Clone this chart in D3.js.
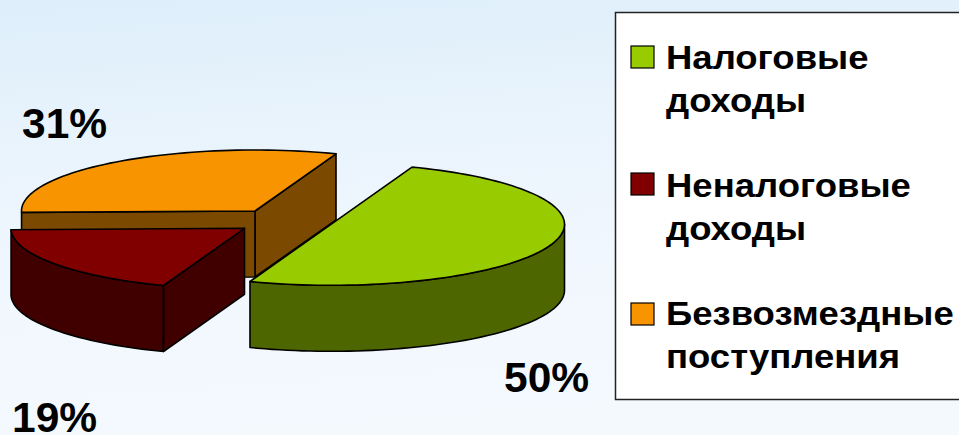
<!DOCTYPE html>
<html>
<head>
<meta charset="utf-8">
<script src="https://cdn.jsdelivr.net/npm/d3@7"></script>
<style>
  html, body { margin: 0; padding: 0; background: #f2f8fd; }
  svg { display: block; }
  text { font-family: "Liberation Sans", Arial, sans-serif; font-weight: bold; fill: #000; }
</style>
</head>
<body>
<div id="chart"></div>
<script>
'use strict';

const categories = [['Налоговые', 'доходы'], ['Неналоговые', 'доходы'], ['Безвозмездные', 'поступления']];
const shares = [50, 19, 31];
const shareLabels = ['50%', '19%', '31%'];
const topColors = ['#99cc00', '#800000', '#f79400'];
const sideColors = ['#4d6600', '#400000', '#7b4a00'];

const width = 959;
const height = 435;
const rx = 233.5;
const ry = 61;
const depth = 66;
const startAngle = 20.3 * Math.PI / 180;

// exploded centres of the slices, same order as shares
const centers = [[331, 224.3], [244.5, 228.3], [255, 211]];
const labelPos = [[504, 391.5], [12, 432], [22, 137.5]];
const legendY = [46, 173, 303];
const legendBaselines = [[69, 112], [197, 240], [325, 368]];

const svg = d3.select('#chart').append('svg')
  .attr('width', width)
  .attr('height', height);

// background
const defs = svg.append('defs');
const bgGrad = defs.append('linearGradient')
  .attr('id', 'bg')
  .attr('x1', 0).attr('y1', 0)
  .attr('x2', 0.15).attr('y2', 1);
bgGrad.append('stop').attr('offset', '0%').attr('stop-color', '#ddeefa');
bgGrad.append('stop').attr('offset', '30%').attr('stop-color', '#e8f3fc');
bgGrad.append('stop').attr('offset', '65%').attr('stop-color', '#f1f7fe');
bgGrad.append('stop').attr('offset', '100%').attr('stop-color', '#f4f9fe');

svg.append('rect')
  .attr('width', width)
  .attr('height', height)
  .attr('fill', 'url(#bg)');

const pie = d3.pie()
  .sort(null)
  .startAngle(startAngle)
  .endAngle(startAngle + 2 * Math.PI);
const slices = pie(shares);

const project = function (c, a, dy) {
  return [c[0] + rx * Math.sin(a), c[1] - ry * Math.cos(a) + (dy || 0)];
};

const arcPoints = function (c, a0, a1, dy) {
  const n = Math.max(2, Math.ceil(Math.abs(a1 - a0) * 30));
  return d3.range(n + 1).map(function (i) {
    return project(c, a0 + (a1 - a0) * i / n, dy);
  });
};

const line = d3.line().curve(d3.curveLinearClosed);

const drawFace = function (pts, fill) {
  svg.append('path')
    .attr('d', line(pts))
    .attr('fill', fill)
    .attr('stroke', '#000')
    .attr('stroke-width', 1.6)
    .attr('stroke-linejoin', 'round');
};

const radialFace = function (c, a, fill) {
  const rim = project(c, a);
  const rimLow = project(c, a, depth);
  drawFace([c, rim, rimLow, [c[0], c[1] + depth]], fill);
};

const outerWall = function (c, a0, a1, fill) {
  drawFace(arcPoints(c, a0, a1).concat(arcPoints(c, a1, a0, depth)), fill);
};

// back to front: orange, red, green
[2, 1, 0].forEach(function (i) {
  const s = slices[i];
  const c = centers[i];
  // visible walls depend on where the slice sits on the ellipse
  if (i === 2) {
    radialFace(c, s.endAngle, sideColors[i]);
    radialFace(c, s.startAngle, sideColors[i]);
  } else if (i === 1) {
    outerWall(c, s.startAngle, s.endAngle, sideColors[i]);
    radialFace(c, s.startAngle, sideColors[i]);
  } else {
    outerWall(c, Math.PI / 2, s.endAngle, sideColors[i]);
  }
  drawFace([c].concat(arcPoints(c, s.startAngle, s.endAngle)), topColors[i]);
});

// percent labels
svg.selectAll('.pct')
  .data(shareLabels)
  .enter().append('text')
  .attr('class', 'pct')
  .attr('x', function (d, i) { return labelPos[i][0]; })
  .attr('y', function (d, i) { return labelPos[i][1]; })
  .style('font-size', '42.5px')
  .text(function (d) { return d; });

// legend
svg.append('rect')
  .attr('x', 615.5)
  .attr('y', 12.5)
  .attr('width', 400)
  .attr('height', 387)
  .attr('fill', '#fff')
  .attr('stroke', '#222')
  .attr('stroke-width', 1.5);

const legend = svg.selectAll('.legend')
  .data(categories)
  .enter().append('g')
  .attr('class', 'legend');

legend.append('rect')
  .attr('x', 631)
  .attr('y', function (d, i) { return legendY[i]; })
  .attr('width', 23)
  .attr('height', 22)
  .attr('fill', function (d, i) { return topColors[i]; })
  .attr('stroke', '#000')
  .attr('stroke-width', 1.2);

// the source text is a bit wider than the plain font
legend.each(function (d, i) {
  d3.select(this).selectAll('text')
    .data(d)
    .enter().append('text')
    .attr('transform', function (t, j) {
      return `translate(666, ${legendBaselines[i][j]}) scale(1.106, 1)`;
    })
    .style('font-size', '33px')
    .text(function (t) { return t; });
});
</script>
</body>
</html>
